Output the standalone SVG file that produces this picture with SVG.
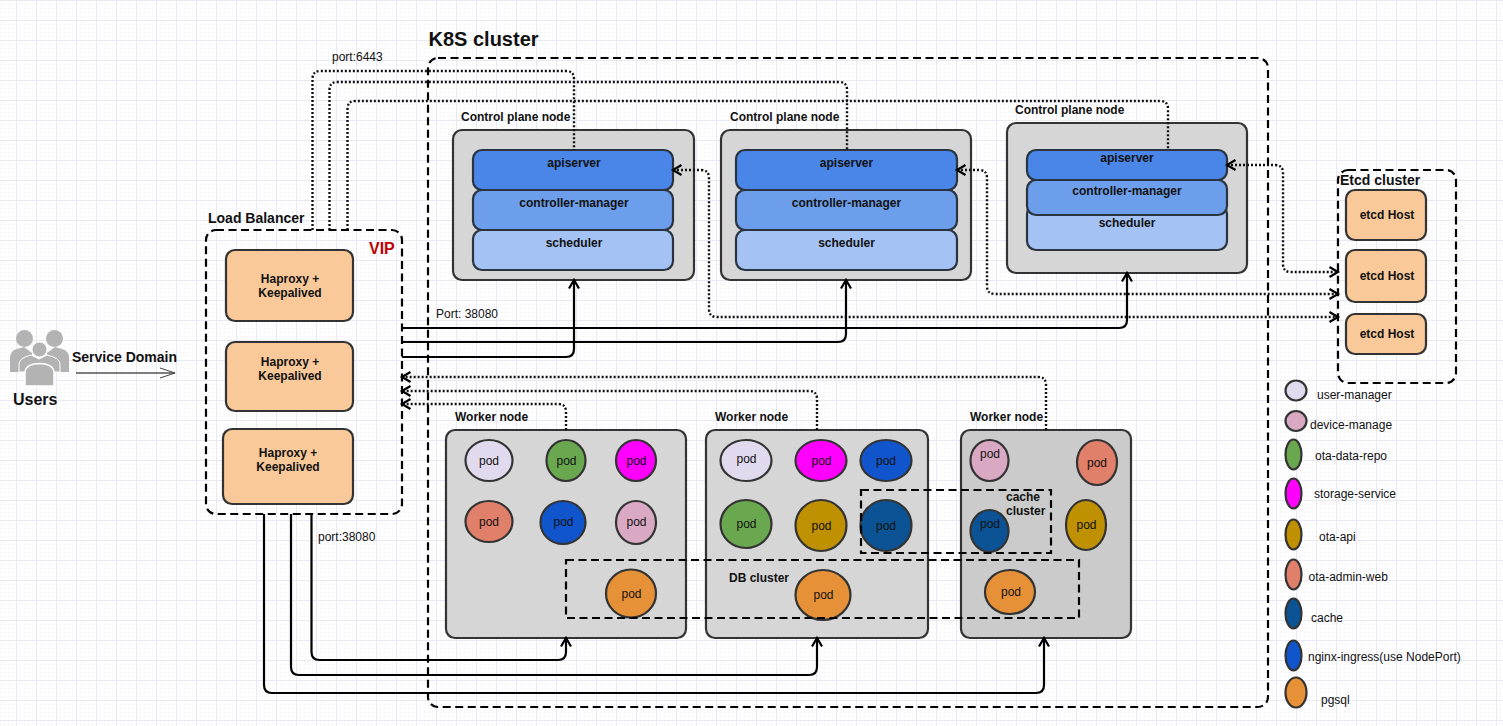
<svg xmlns="http://www.w3.org/2000/svg" width="1503" height="726" viewBox="0 0 1503 726">
<style>
text{font-family:"Liberation Sans",Arial,sans-serif;font-size:12px;fill:#111}
.b{font-weight:bold}
.m{text-anchor:middle}
.dash{fill:none;stroke:#000;stroke-width:2.200;stroke-dasharray:8 4.500}
.node{fill:#d6d6d6;stroke:#333;stroke-width:2.200}
.nodeb{fill:#cbcbcb;stroke:#333;stroke-width:2.200}
.peach{fill:#f9c99a;stroke:#333;stroke-width:2.200}
.l1{fill:#4a86e8;stroke:#2a3340;stroke-width:2.200}
.l2{fill:#6d9eeb;stroke:#2a3340;stroke-width:2.200}
.l3{fill:#a4c2f4;stroke:#2a3340;stroke-width:2.200}
ellipse{stroke:#333;stroke-width:2.200}
.lav{fill:#e1d9ee}.pink{fill:#d9a9c3}.green{fill:#6aa84f}.mag{fill:#ff00ff}.gold{fill:#bf9000}.sal{fill:#e07f6a}.cache{fill:#0b5394}.blue{fill:#1155cc}.org{fill:#e69138}
.dot{fill:none;stroke:#111;stroke-width:2.400;stroke-dasharray:2 2}
.sol{fill:none;stroke:#000;stroke-width:2.200}
.ua{fill:#b3b3b3}
</style>
<defs>
<pattern id="grid" x="16" y="0" width="20" height="20" patternUnits="userSpaceOnUse">
<path d="M4.500 0V20M8.500 0V20M12.500 0V20M16.500 0V20M0 4.500H20M0 8.500H20M0 12.500H20M0 16.500H20" stroke="#fafafd" stroke-width="1" fill="none"/>
<path d="M.5 0V20M0 .5H20" stroke="#e9e9f6" stroke-width="1" fill="none"/>
</pattern>
<marker id="open" markerUnits="userSpaceOnUse" markerWidth="14" markerHeight="14" refX="11" refY="7" orient="auto-start-reverse" overflow="visible">
<path d="M2.500 2L11 7L2.500 12" fill="none" stroke="#000" stroke-width="2.200"/>
</marker>
<marker id="thin" markerUnits="userSpaceOnUse" markerWidth="18" markerHeight="14" refX="16" refY="7" orient="auto" overflow="visible">
<path d="M1 2L16 7L1 12" fill="none" stroke="#444" stroke-width="1"/>
</marker>
</defs>
<rect width="1503" height="726" fill="#fff"/>
<rect width="1503" height="726" fill="url(#grid)"/>

<g id="k8s-cluster">
<rect class="dash" x="428" y="58" width="840" height="649" rx="10"/>
<text class="b" x="428.500" y="46" style="font-size:20px">K8S cluster</text>
</g>

<g id="users">
<circle class="ua" cx="24.500" cy="338.500" r="8.500"/>
<circle class="ua" cx="54.500" cy="338.500" r="8.500"/>
<path class="ua" d="M10 372V358Q10 351 17 349L24 347L32 353L32 372Z"/>
<path class="ua" d="M69 372V358Q69 351 62 349L55 347L47 353L47 372Z"/>
<path class="ua" d="M19 372V364Q19 358 31 355L39 359L47 355Q60 358 60 364V372Z" stroke="#fff" stroke-width="1"/>
<circle class="ua" cx="39.500" cy="349.500" r="7.500" stroke="#fff" stroke-width="1"/>
<path class="ua" d="M25 386V373Q25 364 39.500 363.500Q54 364 54 373V386Z" stroke="#fff" stroke-width="1.500"/>
<text class="b" x="13" y="405" style="font-size:16px">Users</text>
</g>

<g id="load-balancer">
<rect class="dash" x="206" y="230" width="196" height="284" rx="10"/>
<text class="b" x="208" y="223" style="font-size:14px">Load Balancer</text>
<text class="b" x="369" y="254" style="font-size:16px;fill:#c00000">VIP</text>
</g>
<g id="haproxy-1">
<rect class="peach" x="226" y="250" width="127" height="71" rx="9"/>
<text class="b m" x="290" y="283">Haproxy +</text><text class="b m" x="290" y="297">Keepalived</text>
</g>
<g id="haproxy-2">
<rect class="peach" x="226" y="342" width="127" height="69" rx="9"/>
<text class="b m" x="290" y="366">Haproxy +</text><text class="b m" x="290" y="380">Keepalived</text>
</g>
<g id="haproxy-3">
<rect class="peach" x="223" y="429" width="130" height="75" rx="9"/>
<text class="b m" x="288" y="457">Haproxy +</text><text class="b m" x="288" y="471">Keepalived</text>
</g>

<g id="control-plane-1">
<text class="b" x="461" y="121">Control plane node</text>
<rect class="node" x="453" y="130" width="241" height="150" rx="9"/>
<rect class="l1" x="473" y="150" width="200" height="40" rx="9"/>
<rect class="l2" x="473" y="190" width="200" height="40" rx="9"/>
<rect class="l3" x="473" y="230" width="200" height="40" rx="9"/>
<text class="b m" x="574" y="167">apiserver</text>
<text class="b m" x="574" y="207">controller-manager</text>
<text class="b m" x="574" y="247">scheduler</text>
</g>
<g id="control-plane-2">
<text class="b" x="730" y="121">Control plane node</text>
<rect class="node" x="721" y="130" width="250" height="150" rx="9"/>
<rect class="l1" x="736" y="150" width="221" height="40" rx="9"/>
<rect class="l2" x="736" y="190" width="221" height="40" rx="9"/>
<rect class="l3" x="736" y="230" width="221" height="40" rx="9"/>
<text class="b m" x="846.500" y="167">apiserver</text>
<text class="b m" x="846.500" y="207">controller-manager</text>
<text class="b m" x="846.500" y="247">scheduler</text>
</g>
<g id="control-plane-3">
<text class="b" x="1015" y="114">Control plane node</text>
<rect class="node" x="1007" y="123" width="240" height="150" rx="9"/>
<rect class="l3" x="1027" y="205" width="200" height="45" rx="9"/>
<rect class="l2" x="1027" y="180" width="200" height="35" rx="9"/>
<rect class="l1" x="1027" y="150" width="200" height="30" rx="9"/>
<text class="b m" x="1127" y="162">apiserver</text>
<text class="b m" x="1127" y="195">controller-manager</text>
<text class="b m" x="1127" y="227">scheduler</text>
</g>

<g id="etcd-cluster">
<rect class="dash" x="1338" y="170" width="118" height="213" rx="10"/>
<text class="b" x="1340" y="185" style="font-size:14px">Etcd cluster</text>
</g>
<g id="etcd-1"><rect class="peach" x="1346" y="190" width="80" height="50" rx="9"/><text class="b m" x="1387" y="219">etcd Host</text></g>
<g id="etcd-2"><rect class="peach" x="1346" y="250" width="80" height="52" rx="9"/><text class="b m" x="1387" y="280">etcd Host</text></g>
<g id="etcd-3"><rect class="peach" x="1346" y="314" width="80" height="40" rx="9"/><text class="b m" x="1387" y="338">etcd Host</text></g>

<g id="worker-1">
<text class="b" x="455" y="421">Worker node</text>
<rect class="node" x="446" y="430" width="240" height="208" rx="9"/>
<ellipse class="lav" cx="489" cy="460.500" rx="23.500" ry="20.500"/><text class="m" x="489" y="465">pod</text>
<ellipse class="green" cx="566" cy="460.500" rx="19.500" ry="20.500"/><text class="m" x="566.500" y="465">pod</text>
<ellipse class="mag" cx="636" cy="460.500" rx="20" ry="20.500"/><text class="m" x="636.500" y="465">pod</text>
<ellipse class="sal" cx="489" cy="521.500" rx="23.500" ry="20.500"/><text class="m" x="489" y="526">pod</text>
<ellipse class="blue" cx="563" cy="522.500" rx="22.500" ry="21.500"/><text class="m" x="563.500" y="526">pod</text>
<ellipse class="pink" cx="636" cy="522.500" rx="20" ry="21.500"/><text class="m" x="636.500" y="526">pod</text>
<ellipse class="org" cx="631" cy="593.500" rx="25" ry="24"/><text class="m" x="631.500" y="598">pod</text>
</g>
<g id="worker-2">
<text class="b" x="715" y="421">Worker node</text>
<rect class="node" x="706" y="430" width="222" height="208" rx="9"/>
<ellipse class="lav" cx="746" cy="460.500" rx="25.500" ry="20.500"/><text class="m" x="746.500" y="463">pod</text>
<ellipse class="mag" cx="821" cy="460.500" rx="25.500" ry="20.500"/><text class="m" x="821.500" y="465">pod</text>
<ellipse class="blue" cx="886" cy="460.500" rx="25.500" ry="20.500"/><text class="m" x="886" y="465">pod</text>
<ellipse class="green" cx="746" cy="524" rx="25.500" ry="24"/><text class="m" x="746.500" y="528">pod</text>
<ellipse class="gold" cx="821" cy="525.500" rx="25.500" ry="25.500"/><text class="m" x="821.500" y="530">pod</text>
<ellipse class="cache" cx="886" cy="525.500" rx="25.500" ry="25.500"/><text class="m" x="886" y="530">pod</text>
<ellipse class="org" cx="823" cy="595" rx="27.500" ry="25"/><text class="m" x="823.500" y="599">pod</text>
</g>
<g id="worker-3">
<text class="b" x="970" y="421">Worker node</text>
<rect class="nodeb" x="961" y="430" width="170" height="208" rx="9"/>
<ellipse class="pink" cx="989.500" cy="460.500" rx="19" ry="20.500"/><text class="m" x="990" y="458">pod</text>
<ellipse class="sal" cx="1097" cy="462.500" rx="20" ry="22.500"/><text class="m" x="1097" y="467">pod</text>
<ellipse class="cache" cx="989.500" cy="531" rx="19" ry="21"/><text class="m" x="990" y="528">pod</text>
<ellipse class="gold" cx="1086" cy="525" rx="20" ry="25"/><text class="m" x="1086.500" y="529">pod</text>
<ellipse class="org" cx="1010" cy="592" rx="25" ry="22"/><text class="m" x="1011" y="596">pod</text>
</g>

<g id="db-cluster">
<rect class="dash" x="566" y="560" width="513" height="58"/>
<text class="b" x="729" y="582">DB cluster</text>
</g>
<g id="cache-cluster">
<rect class="dash" x="861" y="490" width="190" height="63"/>
<text class="b" x="1006" y="501">cache</text>
<text class="b" x="1006" y="515">cluster</text>
</g>

<g id="connectors">
<path d="M76 373H175" fill="none" stroke="#555" stroke-width="1.300" marker-end="url(#thin)"/>
<path class="dot" d="M312.500 230V79Q312.500 71 320.500 71H566Q574 71 574 79V150"/>
<path class="dot" d="M329.500 230V90Q329.500 82 337.500 82H839Q847 82 847 90V150"/>
<path class="dot" d="M347.500 230V109Q347.500 101 355.500 101H1160Q1168 101 1168 109V150"/>
<path class="dot" d="M673 170H701Q709 170 709 178V309Q709 317 717 317H1338" marker-start="url(#open)" marker-end="url(#open)"/>
<path class="dot" d="M957 170H979Q987 170 987 178V286Q987 294 995 294H1338" marker-start="url(#open)" marker-end="url(#open)"/>
<path class="dot" d="M1227 165H1275Q1283 165 1283 173V264Q1283 272 1291 272H1338" marker-start="url(#open)" marker-end="url(#open)"/>
<path class="dot" d="M566 430V412Q566 404 558 404H402" marker-end="url(#open)"/>
<path class="dot" d="M817 430V399Q817 391 809 391H402" marker-end="url(#open)"/>
<path class="dot" d="M1046 430V385Q1046 377 1038 377H402" marker-end="url(#open)"/>
<path class="sol" d="M402 328H1119Q1127 328 1127 320V273" marker-end="url(#open)"/>
<path class="sol" d="M402 342H838Q846 342 846 334V280" marker-end="url(#open)"/>
<path class="sol" d="M402 357H566Q574 357 574 349V280" marker-end="url(#open)"/>
<path class="sol" d="M311.500 514V652Q311.500 660 319.500 660H558Q566 660 566 652V638" marker-end="url(#open)"/>
<path class="sol" d="M291 514V667Q291 675 299 675H809Q817 675 817 667V638" marker-end="url(#open)"/>
<path class="sol" d="M264 514V685Q264 693 272 693H1036Q1044 693 1044 685V638" marker-end="url(#open)"/>
</g>

<g id="edge-labels">
<text class="b" x="72" y="362" style="font-size:14px">Service Domain</text>
<text x="332" y="61">port:6443</text>
<text x="436" y="318">Port: 38080</text>
<text x="318" y="541">port:38080</text>
</g>

<g id="legend">
<ellipse class="lav" cx="1296" cy="390.500" rx="10.500" ry="10"/><text x="1317" y="399">user-manager</text>
<ellipse class="pink" cx="1296" cy="421" rx="10.500" ry="10"/><text x="1310" y="429">device-manage</text>
<ellipse class="green" cx="1293.500" cy="454.500" rx="8" ry="15"/><text x="1315" y="460">ota-data-repo</text>
<ellipse class="mag" cx="1293.500" cy="493.500" rx="8" ry="15"/><text x="1314" y="498">storage-service</text>
<ellipse class="gold" cx="1293.500" cy="534.500" rx="8" ry="15"/><text x="1319" y="541">ota-api</text>
<ellipse class="sal" cx="1293.500" cy="574.500" rx="8" ry="15"/><text x="1308.500" y="581">ota-admin-web</text>
<ellipse class="cache" cx="1293.500" cy="613.500" rx="8" ry="15"/><text x="1311" y="622">cache</text>
<ellipse class="blue" cx="1293.500" cy="655.500" rx="8" ry="15"/><text x="1308" y="661">nginx-ingress(use NodePort)</text>
<ellipse class="org" cx="1296" cy="692.500" rx="10.500" ry="15"/><text x="1321" y="704">pgsql</text>
</g>
</svg>
